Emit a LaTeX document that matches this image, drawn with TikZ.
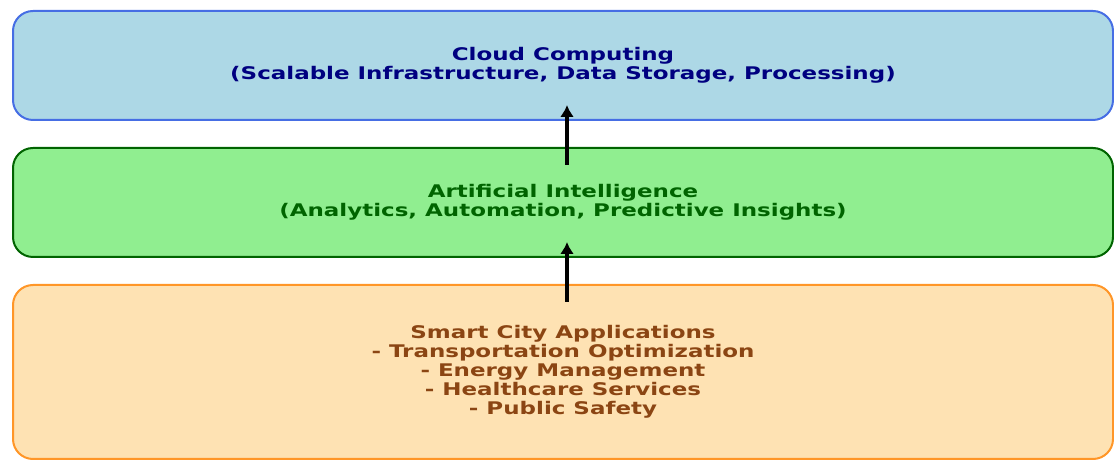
\documentclass[tikz,border=0pt]{standalone}
\usepackage{fontspec}
\usetikzlibrary{arrows.meta}
\newfontfamily\layerfont{DejaVu Sans}[FakeStretch=1.32]
\definecolor{cloudfill}{RGB}{173,216,230}
\definecolor{cloudline}{RGB}{70,110,228}
\definecolor{cloudtext}{RGB}{0,0,128}
\definecolor{aifill}{RGB}{144,238,144}
\definecolor{ailine}{RGB}{0,100,0}
\definecolor{aitext}{RGB}{0,100,0}
\definecolor{appfill}{RGB}{254,226,179}
\definecolor{appline}{RGB}{255,150,40}
\definecolor{apptext}{RGB}{139,69,19}

\begin{document}
\begin{tikzpicture}[x=1pt,y=1pt,
    layer/.style={rectangle,rounded corners=20pt,line width=2pt,
        minimum width=1100pt,align=center,inner sep=0pt,
        font=\layerfont\bfseries\fontsize{17.4}{19}\selectfont},
    uparrow/.style={-{Latex[length=12pt,width=14pt]},line width=3.4pt,black}]
    \useasboundingbox (0,0) rectangle (1114,460);
    % three stacked layers, bottom to top
    \node[layer,draw=appline,fill=appfill,text=apptext,minimum height=174pt] (app) at (563,88)
        {Smart City Applications\\- Transportation Optimization\\- Energy Management\\- Healthcare Services\\- Public Safety};
    \node[layer,draw=ailine,fill=aifill,text=aitext,minimum height=109pt] (ai) at (563,257.5)
        {Artificial Intelligence\\(Analytics, Automation, Predictive Insights)};
    \node[layer,draw=cloudline,fill=cloudfill,text=cloudtext,minimum height=109pt] (cloud) at (563,394.5)
        {Cloud Computing\\(Scalable Infrastructure, Data Storage, Processing)};
    % data flows upwards
    \draw[uparrow] ([xshift=4pt,yshift=-18pt]app.north) -- ([xshift=4pt,yshift=16pt]ai.south);
    \draw[uparrow] ([xshift=4pt,yshift=-18pt]ai.north) -- ([xshift=4pt,yshift=16pt]cloud.south);
\end{tikzpicture}
\end{document}
